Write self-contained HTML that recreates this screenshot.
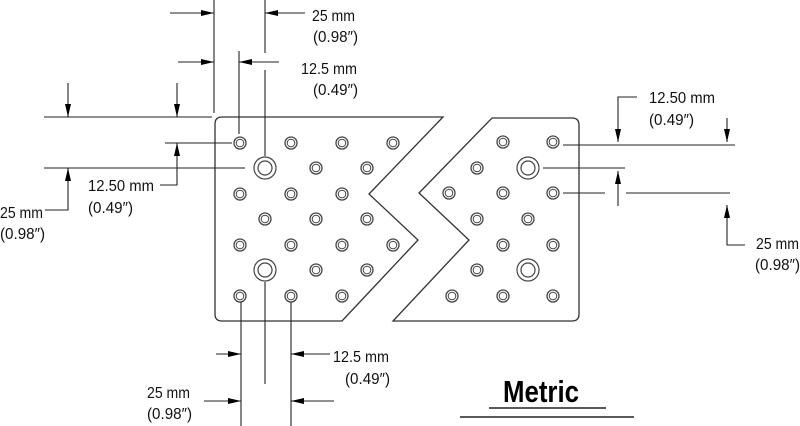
<!DOCTYPE html>
<html><head><style>body{margin:0;background:#fff}svg{display:block}</style></head><body>
<svg width="800" height="426" viewBox="0 0 800 426" xmlns="http://www.w3.org/2000/svg" font-family="Liberation Sans, sans-serif" font-size="16" fill="#111">
<defs>
<marker id="a" markerWidth="13" markerHeight="6" refX="13" refY="3" orient="auto" markerUnits="userSpaceOnUse"><path d="M0,0 L13,3 L0,6 z" fill="#000"/></marker>
</defs>
<g stroke="#333" stroke-width="1.3" fill="none">
<path d="M443,117 L222,117 Q215,117 215,124 L215,314 Q215,321 222,321 L342,321 L418,240 L369,194 Z"/>
<path d="M492,118 L572,118 Q579,118 579,125 L579,314 Q579,321 572,321 L393,321 L469,240 L419,193 Z"/>
</g>
<g stroke="#444" fill="none">
<g stroke-width="1.3">
<circle cx="240" cy="143" r="6"/><circle cx="291" cy="143" r="6"/><circle cx="342" cy="143" r="6"/><circle cx="393" cy="143" r="6"/>
<circle cx="316" cy="168" r="6"/><circle cx="367" cy="168" r="6"/>
<circle cx="240" cy="194" r="6"/><circle cx="291" cy="194" r="6"/><circle cx="342" cy="194" r="6"/>
<circle cx="265" cy="219" r="6"/><circle cx="316" cy="219" r="6"/><circle cx="367" cy="219" r="6"/>
<circle cx="240" cy="245" r="6"/><circle cx="291" cy="245" r="6"/><circle cx="342" cy="245" r="6"/><circle cx="393" cy="245" r="6"/>
<circle cx="316" cy="270" r="6"/><circle cx="367" cy="270" r="6"/>
<circle cx="240" cy="296" r="6"/><circle cx="291" cy="296" r="6"/><circle cx="342" cy="296" r="6"/>
<circle cx="503" cy="142" r="6"/><circle cx="553" cy="142" r="6"/>
<circle cx="477" cy="168" r="6"/>
<circle cx="449" cy="193" r="6"/><circle cx="503" cy="193" r="6"/><circle cx="553" cy="193" r="6"/>
<circle cx="477" cy="219" r="6"/><circle cx="528" cy="219" r="6"/>
<circle cx="503" cy="245" r="6"/><circle cx="553" cy="245" r="6"/>
<circle cx="477" cy="270" r="6"/>
<circle cx="452" cy="296" r="6"/><circle cx="503" cy="296" r="6"/><circle cx="553" cy="296" r="6"/>
</g>
<g stroke-width="1">
<circle cx="240" cy="143" r="3.8"/><circle cx="291" cy="143" r="3.8"/><circle cx="342" cy="143" r="3.8"/><circle cx="393" cy="143" r="3.8"/>
<circle cx="316" cy="168" r="3.8"/><circle cx="367" cy="168" r="3.8"/>
<circle cx="240" cy="194" r="3.8"/><circle cx="291" cy="194" r="3.8"/><circle cx="342" cy="194" r="3.8"/>
<circle cx="265" cy="219" r="3.8"/><circle cx="316" cy="219" r="3.8"/><circle cx="367" cy="219" r="3.8"/>
<circle cx="240" cy="245" r="3.8"/><circle cx="291" cy="245" r="3.8"/><circle cx="342" cy="245" r="3.8"/><circle cx="393" cy="245" r="3.8"/>
<circle cx="316" cy="270" r="3.8"/><circle cx="367" cy="270" r="3.8"/>
<circle cx="240" cy="296" r="3.8"/><circle cx="291" cy="296" r="3.8"/><circle cx="342" cy="296" r="3.8"/>
<circle cx="503" cy="142" r="3.8"/><circle cx="553" cy="142" r="3.8"/>
<circle cx="477" cy="168" r="3.8"/>
<circle cx="449" cy="193" r="3.8"/><circle cx="503" cy="193" r="3.8"/><circle cx="553" cy="193" r="3.8"/>
<circle cx="477" cy="219" r="3.8"/><circle cx="528" cy="219" r="3.8"/>
<circle cx="503" cy="245" r="3.8"/><circle cx="553" cy="245" r="3.8"/>
<circle cx="477" cy="270" r="3.8"/>
<circle cx="452" cy="296" r="3.8"/><circle cx="503" cy="296" r="3.8"/><circle cx="553" cy="296" r="3.8"/>
</g>
<g stroke-width="1.2">
<circle cx="265" cy="168" r="11"/><circle cx="265" cy="168" r="7"/>
<circle cx="265" cy="270" r="11"/><circle cx="265" cy="270" r="7"/>
<circle cx="528" cy="168" r="11"/><circle cx="528" cy="168" r="7"/>
<circle cx="528" cy="270" r="11"/><circle cx="528" cy="270" r="7"/>
</g>
</g>
<g stroke="#222" stroke-width="1.1" fill="none">
<line x1="214" y1="0" x2="214" y2="113"/>
<line x1="265" y1="0" x2="265" y2="53"/>
<line x1="239" y1="51" x2="239" y2="134"/>
<line x1="265" y1="70" x2="265" y2="156"/>
<line x1="170" y1="13" x2="214" y2="13" marker-end="url(#a)"/>
<line x1="305" y1="13" x2="265" y2="13" marker-end="url(#a)"/>
<line x1="178" y1="62" x2="214" y2="62" marker-end="url(#a)"/>
<line x1="279" y1="62" x2="239" y2="62" marker-end="url(#a)"/>
<line x1="44" y1="117" x2="212" y2="117"/>
<line x1="44" y1="168" x2="245" y2="168"/>
<line x1="165" y1="143" x2="232" y2="143"/>
<line x1="68" y1="83" x2="68" y2="117" marker-end="url(#a)"/>
<line x1="177" y1="83" x2="177" y2="117" marker-end="url(#a)"/>
<polyline points="160,185 177,185 177,143" marker-end="url(#a)"/>
<polyline points="45,210 68,210 68,168" marker-end="url(#a)"/>
<line x1="241" y1="302" x2="241" y2="426"/>
<line x1="265" y1="282" x2="265" y2="384"/>
<line x1="291" y1="302" x2="291" y2="426"/>
<line x1="216" y1="354" x2="241" y2="354" marker-end="url(#a)"/>
<line x1="330" y1="354" x2="291" y2="354" marker-end="url(#a)"/>
<line x1="204" y1="401" x2="241" y2="401" marker-end="url(#a)"/>
<line x1="334" y1="401" x2="291" y2="401" marker-end="url(#a)"/>
<line x1="563" y1="145" x2="735" y2="145"/>
<line x1="543" y1="168" x2="625" y2="168"/>
<line x1="563" y1="193" x2="605" y2="193"/>
<line x1="626" y1="193" x2="730" y2="193"/>
<polyline points="637,97 618,97 618,142" marker-end="url(#a)"/>
<line x1="727" y1="118" x2="727" y2="142" marker-end="url(#a)"/>
<line x1="618" y1="206" x2="618" y2="171" marker-end="url(#a)"/>
<polyline points="745,245 727,245 727,205" marker-end="url(#a)"/>
<line x1="489" y1="408" x2="606" y2="408" stroke-width="1.6"/>
<line x1="460" y1="417" x2="634" y2="417" stroke-width="1.6"/>
</g>
<g>
<text x="312" y="21" textLength="43" lengthAdjust="spacingAndGlyphs">25 mm</text>
<text x="313" y="42" textLength="45" lengthAdjust="spacingAndGlyphs">(0.98″)</text>
<text x="301" y="74" textLength="56" lengthAdjust="spacingAndGlyphs">12.5 mm</text>
<text x="313" y="95" textLength="45" lengthAdjust="spacingAndGlyphs">(0.49″)</text>
<text x="88" y="191" textLength="66" lengthAdjust="spacingAndGlyphs">12.50 mm</text>
<text x="88" y="213" textLength="45" lengthAdjust="spacingAndGlyphs">(0.49″)</text>
<text x="0" y="218" textLength="43" lengthAdjust="spacingAndGlyphs">25 mm</text>
<text x="0" y="239" textLength="45" lengthAdjust="spacingAndGlyphs">(0.98″)</text>
<text x="333" y="362" textLength="56" lengthAdjust="spacingAndGlyphs">12.5 mm</text>
<text x="345" y="384" textLength="45" lengthAdjust="spacingAndGlyphs">(0.49″)</text>
<text x="147" y="398" textLength="43" lengthAdjust="spacingAndGlyphs">25 mm</text>
<text x="147" y="419" textLength="45" lengthAdjust="spacingAndGlyphs">(0.98″)</text>
<text x="649" y="103" textLength="66" lengthAdjust="spacingAndGlyphs">12.50 mm</text>
<text x="649" y="125" textLength="45" lengthAdjust="spacingAndGlyphs">(0.49″)</text>
<text x="756" y="249" textLength="43" lengthAdjust="spacingAndGlyphs">25 mm</text>
<text x="755" y="270" textLength="45" lengthAdjust="spacingAndGlyphs">(0.98″)</text>
<text x="503" y="402" font-size="31" font-weight="bold" fill="#000" textLength="76" lengthAdjust="spacingAndGlyphs">Metric</text>
</g>
</svg>
</body></html>
